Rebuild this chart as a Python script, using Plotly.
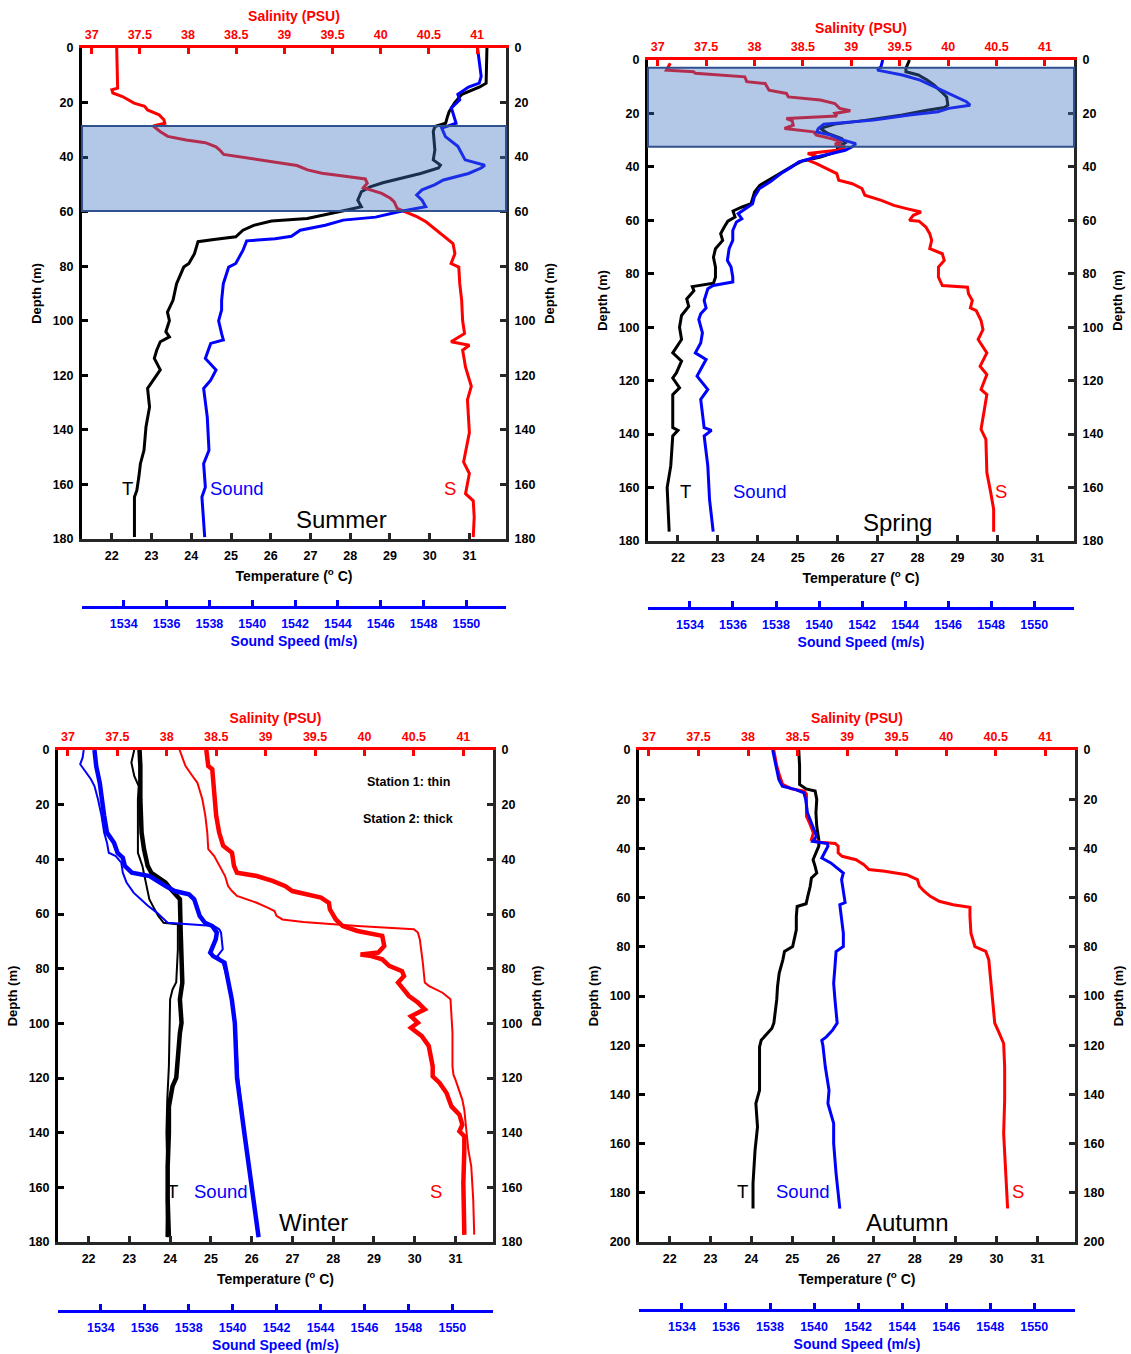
import plotly.graph_objects as go

W, H = 1131, 1354
FONT = "Liberation Sans, Arial, Helvetica, sans-serif"

# ---------------- axis ranges & ticks ----------------
T_RANGE = [21.25, 31.92]
S_RANGE = [36.9, 41.3]
C_RANGE = [1532.05, 1551.85]
T_TICKS = [22, 23, 24, 25, 26, 27, 28, 29, 30, 31]
S_TICKS = [37, 37.5, 38, 38.5, 39, 39.5, 40, 40.5, 41]
S_TICK_TEXT = ["37", "37.5", "38", "38.5", "39", "39.5", "40", "40.5", "41"]
C_TICKS = [1534, 1536, 1538, 1540, 1542, 1544, 1546, 1548, 1550]
DEPTH_TICKS_180 = [0, 20, 40, 60, 80, 100, 120, 140, 160, 180]
DEPTH_TICKS_200 = [0, 20, 40, 60, 80, 100, 120, 140, 160, 180, 200]

# ---------------- SUMMER ----------------
SUMMER_T_DEPTH = [0, 12.9, 14.3, 17.0, 20.0, 23.3, 25.0, 27.6, 28.8, 30.6, 37.4, 41.0, 42.9, 44.0, 46.0, 47.8,
                  49.4, 50.9, 52.7, 55.8, 58.2, 59.4, 60.7, 62.5, 63.4, 65.0, 66.8, 69.2, 70.2, 71.0, 75.4,
                  79.0, 80.3, 86.4, 92.5, 96.8, 100.0, 104.0, 105.9, 107.7, 110.8, 113.8, 118.0, 121.8, 124.8,
                  131.6, 138.9, 147.5, 152.4, 157.3, 162.2, 164.6, 179.3]
SUMMER_T = [31.44, 31.42, 31.26, 30.81, 30.63, 30.49, 30.45, 30.40, 30.13, 30.09, 30.13, 30.09, 30.27, 30.22,
            29.77, 29.27, 28.82, 28.50, 28.28, 28.19, 28.28, 27.92, 27.47, 26.92, 26.02, 25.57, 25.30, 25.12,
            24.57, 24.17, 24.08, 23.94, 23.81, 23.63, 23.54, 23.40, 23.45, 23.36, 23.45, 23.22, 23.13, 23.07,
            23.22, 23.04, 22.90, 22.95, 22.86, 22.81, 22.72, 22.68, 22.63, 22.57, 22.57]
SUMMER_S_DEPTH = [0, 14.7, 15.3, 16.5, 17.8, 20.2, 21.4, 22.7, 24.5, 26.3, 27.6, 28.6, 30.6, 32.4, 33.7, 34.7,
                  36.2, 37.4, 39.0, 40.1, 41.1, 42.3, 43.1, 44.7, 45.9, 46.9, 48.0, 49.6, 51.2, 53.3, 55.1,
                  56.4, 58.8, 60.0, 61.9, 63.7, 66.8, 69.2, 71.7, 75.4, 79.0, 80.3, 86.4, 92.5, 100.0, 104.7,
                  107.7, 109.0, 110.8, 117.0, 124.0, 129.0, 141.0, 151.8, 156.0, 163.4, 166.0, 172.0, 179.3]
SUMMER_S = [37.26, 37.27, 37.21, 37.22, 37.32, 37.44, 37.55, 37.58, 37.70, 37.75, 37.76, 37.64, 37.71, 37.79,
            37.98, 38.18, 38.29, 38.33, 38.37, 38.57, 38.80, 39.02, 39.13, 39.24, 39.39, 39.61, 39.84, 39.86,
            39.82, 40.01, 40.10, 40.14, 40.17, 40.25, 40.38, 40.47, 40.58, 40.66, 40.75, 40.77, 40.73, 40.81,
            40.82, 40.84, 40.85, 40.87, 40.73, 40.92, 40.85, 40.88, 40.94, 40.90, 40.92, 40.86, 40.92, 40.88,
            40.96, 40.97, 40.96]
SUMMER_C_DEPTH = [0, 10.4, 12.9, 14.3, 17.0, 19.0, 22.0, 25.0, 27.6, 29.4, 32.5, 36.0, 41.0, 43.0, 44.0, 46.0,
                  48.4, 50.2, 52.0, 53.9, 55.8, 58.2, 60.0, 62.0, 63.1, 65.0, 66.8, 69.0, 69.9, 70.7, 74.1,
                  79.0, 80.3, 86.4, 92.5, 96.0, 100.0, 104.7, 107.0, 108.3, 113.8, 118.0, 121.8, 124.8, 135.3,
                  147.5, 152.4, 161.0, 164.6, 179.3]
SUMMER_C = [1550.52, 1550.69, 1550.60, 1550.10, 1549.60, 1549.69, 1549.30, 1549.40, 1549.52, 1548.85, 1549.02,
            1549.60, 1549.94, 1550.86, 1550.69, 1550.10, 1548.93, 1548.51, 1547.93, 1547.68, 1547.93, 1548.10,
            1546.84, 1545.76, 1544.25, 1543.41, 1542.24, 1541.83, 1541.07, 1539.74, 1539.57, 1539.23, 1538.90,
            1538.65, 1538.57, 1538.57, 1538.43, 1538.57, 1538.65, 1538.06, 1537.81, 1538.31, 1538.06, 1537.73,
            1537.90, 1537.98, 1537.73, 1537.81, 1537.65, 1537.78]
SUMMER_LAYER = [28.6, 59.8]

# ---------------- SPRING ----------------
SPRING_T_DEPTH = [0, 3.1, 4.4, 5.6, 7.5, 9.4, 11.9, 13.8, 16.9, 17.8, 18.8, 20.6, 22.5, 24.0, 25.6, 27.5, 29.4,
                  31.0, 32.5, 34.4, 36.3, 37.8, 39.4, 41.3, 43.8, 46.9, 49.4, 51.9, 53.8, 55.0, 56.5, 58.8,
                  60.3, 62.5, 65.0, 67.5, 70.6, 73.8, 77.5, 81.3, 83.5, 84.8, 86.3, 89.4, 92.2, 95.6, 100.0,
                  104.6, 109.6, 112.7, 117.1, 119.0, 122.7, 125.2, 137.6, 138.6, 140.7, 151.9, 160.0, 176.5]
SPRING_T = [27.80, 27.71, 27.71, 28.02, 28.24, 28.42, 28.60, 28.73, 28.76, 28.68, 28.24, 27.62, 26.73, 25.93,
            25.57, 25.75, 26.10, 26.19, 26.01, 25.97, 25.57, 25.12, 24.90, 24.68, 24.41, 24.05, 23.92, 23.87,
            23.83, 23.61, 23.38, 23.43, 23.25, 23.16, 23.07, 23.12, 22.94, 22.89, 22.94, 22.94, 22.89, 22.36,
            22.40, 22.22, 22.27, 22.09, 22.04, 22.09, 21.87, 22.09, 21.96, 21.87, 22.04, 21.87, 21.87, 22.00,
            21.87, 21.82, 21.73, 21.78]
SPRING_S_DEPTH = [1.2, 3.8, 4.4, 5.0, 6.3, 8.1, 8.8, 11.3, 12.5, 13.8, 15.0, 16.3, 18.1, 19.0, 20.0, 21.0,
                  21.9, 22.8, 24.4, 25.6, 26.9, 28.1, 29.4, 30.6, 31.5, 32.5, 33.8, 35.0, 36.0, 37.5, 38.8,
                  40.6, 42.5, 45.0, 46.3, 48.1, 50.6, 52.5, 54.4, 55.6, 56.9, 58.1, 60.0, 60.3, 62.5, 65.0,
                  67.5, 70.6, 72.5, 75.0, 77.5, 81.3, 84.4, 85.0, 87.5, 90.0, 92.8, 93.8, 97.5, 100.9, 104.6,
                  109.6, 114.6, 117.7, 123.3, 125.2, 138.2, 142.0, 154.4, 161.9, 168.1, 176.5]
SPRING_S = [37.13, 37.09, 37.37, 37.39, 37.90, 37.92, 38.11, 38.15, 38.33, 38.35, 38.68, 38.83, 38.88, 38.99,
            38.83, 38.85, 38.33, 38.39, 38.40, 38.31, 38.61, 38.64, 38.79, 38.90, 38.83, 38.94, 38.85, 38.55,
            38.64, 38.55, 38.64, 38.75, 38.85, 38.87, 39.01, 39.11, 39.14, 39.31, 39.44, 39.57, 39.72, 39.64,
            39.60, 39.70, 39.77, 39.81, 39.83, 39.81, 39.94, 39.96, 39.90, 39.90, 39.94, 40.20, 40.21, 40.25,
            40.23, 40.29, 40.34, 40.36, 40.31, 40.40, 40.33, 40.40, 40.34, 40.40, 40.34, 40.39, 40.40, 40.44,
            40.47, 40.47]
SPRING_C_DEPTH = [0, 2.5, 3.8, 5.6, 7.5, 10.0, 11.9, 13.8, 15.6, 16.9, 18.1, 19.4, 20.6, 22.5, 24.0, 25.6,
                  26.9, 28.1, 29.8, 31.3, 32.5, 33.8, 35.0, 36.3, 38.1, 40.0, 42.5, 45.6, 48.1, 51.3, 53.8,
                  55.6, 57.5, 59.4, 60.6, 63.8, 67.5, 70.6, 75.0, 77.5, 81.3, 83.1, 84.4, 85.6, 90.0, 92.8,
                  95.0, 97.1, 102.1, 105.9, 109.6, 112.1, 118.3, 123.3, 127.0, 137.6, 138.6, 140.7, 151.9,
                  164.4, 176.5]
SPRING_C = [1542.96, 1542.88, 1542.71, 1543.87, 1544.70, 1545.36, 1545.86, 1546.35, 1546.85, 1547.02, 1546.02,
            1545.53, 1544.20, 1542.54, 1540.22, 1539.97, 1539.89, 1540.55, 1541.05, 1541.71, 1541.54, 1541.21,
            1540.55, 1539.89, 1539.06, 1538.73, 1538.23, 1537.73, 1537.23, 1536.99, 1536.91, 1536.57, 1536.24,
            1536.41, 1536.16, 1535.99, 1535.99, 1535.82, 1535.74, 1535.91, 1535.99, 1535.99, 1535.08, 1534.83,
            1534.66, 1534.75, 1534.50, 1534.41, 1534.58, 1534.50, 1534.25, 1534.75, 1534.33, 1534.83, 1534.50,
            1534.66, 1535.00, 1534.66, 1534.83, 1534.91, 1535.08]
SPRING_LAYER = [2.9, 32.5]

# ---------------- WINTER (station 1 thin, station 2 thick) ----------------
WINTER_T1_DEPTH = [0, 4.6, 9.5, 13.2, 18.0, 30.2, 37.6, 42.4, 48.5, 54.6, 58.3, 60.7, 63.2, 63.8, 64.4, 73.0,
                   85.0, 87.6, 91.2, 103.4, 115.7, 128.0, 140.0, 152.4, 178.2]
WINTER_T1 = [23.12, 23.05, 23.12, 23.23, 23.21, 23.21, 23.21, 23.32, 23.40, 23.49, 23.62, 23.71, 23.84, 24.24,
             24.19, 24.19, 24.15, 24.06, 24.00, 23.99, 23.97, 23.93, 23.91, 23.93, 23.91]
WINTER_T2_DEPTH = [0, 5.9, 18.0, 30.2, 36.3, 38.8, 42.4, 44.9, 46.7, 48.5, 51.0, 52.8, 54.6, 66.8, 79.0, 85.1,
                   91.2, 99.8, 103.5, 120.0, 123.0, 130.5, 140.0, 152.4, 164.5, 178.2]
WINTER_T2 = [23.25, 23.27, 23.27, 23.30, 23.36, 23.40, 23.45, 23.54, 23.71, 23.89, 24.02, 24.15, 24.24, 24.26,
             24.28, 24.30, 24.24, 24.28, 24.24, 24.15, 24.06, 23.97, 23.97, 23.94, 23.94, 23.97]
WINTER_C1_DEPTH = [0, 2.8, 5.2, 7.7, 10.7, 13.2, 18.0, 24.0, 30.2, 33.9, 37.6, 38.8, 41.2, 44.9, 48.5, 52.2,
                   54.6, 57.0, 59.5, 61.3, 63.2, 64.4, 65.6, 66.8, 72.9, 75.4, 77.8, 85.0, 91.2, 99.8, 120.0,
                   140.0, 160.0, 178.2]
WINTER_C1 = [1533.22, 1533.17, 1533.06, 1533.30, 1533.55, 1533.71, 1533.87, 1534.03, 1534.15, 1534.28, 1534.36,
             1534.68, 1534.93, 1535.00, 1535.17, 1535.49, 1535.82, 1536.14, 1536.55, 1536.79, 1537.04, 1539.15,
             1539.39, 1539.47, 1539.55, 1539.31, 1539.55, 1539.80, 1539.96, 1540.12, 1540.25, 1540.55, 1540.87,
             1541.20]
WINTER_C2_DEPTH = [0, 5.9, 12.0, 18.0, 24.0, 30.2, 33.9, 37.6, 39.4, 42.4, 44.9, 46.1, 47.9, 49.8, 51.6, 52.8,
                   54.6, 57.0, 60.7, 63.2, 64.4, 66.8, 69.3, 74.1, 75.4, 77.8, 85.0, 91.2, 100.0, 120.0, 140.0,
                   160.0, 178.2]
WINTER_C2 = [1533.71, 1533.79, 1533.95, 1534.03, 1534.15, 1534.28, 1534.60, 1534.76, 1535.00, 1535.09, 1535.41,
             1536.22, 1536.55, 1536.95, 1537.36, 1538.01, 1538.25, 1538.33, 1538.50, 1538.74, 1539.07, 1539.28,
             1539.23, 1538.98, 1539.11, 1539.63, 1539.80, 1539.96, 1540.10, 1540.20, 1540.53, 1540.85, 1541.18]
WINTER_S1_DEPTH = [0, 2.2, 5.9, 9.5, 12.0, 18.0, 24.0, 30.2, 36.3, 38.8, 42.4, 46.1, 49.8, 51.6, 53.4, 54.6,
                   55.9, 57.7, 58.9, 60.7, 62.0, 62.9, 63.8, 64.4, 65.6, 66.8, 69.3, 74.1, 77.8, 85.1, 86.3,
                   88.8, 91.2, 97.3, 103.4, 115.7, 118.8, 120.6, 124.4, 128.0, 131.7, 140.1, 146.2, 152.3, 164.5,
                   177.3]
WINTER_S1 = [38.13, 38.15, 38.19, 38.26, 38.31, 38.36, 38.39, 38.41, 38.42, 38.48, 38.53, 38.59, 38.62, 38.66,
             38.71, 38.80, 38.91, 39.02, 39.09, 39.11, 39.17, 39.38, 39.71, 39.93, 40.50, 40.54, 40.56, 40.58,
             40.59, 40.61, 40.65, 40.79, 40.87, 40.88, 40.89, 40.89, 40.90, 40.92, 40.96, 40.99, 41.01, 41.03,
             41.05, 41.08, 41.10, 41.11]
WINTER_S2_DEPTH = [0, 5.9, 7.0, 18.0, 24.0, 30.2, 35.0, 37.6, 42.4, 44.9, 46.1, 47.9, 49.8, 51.6, 52.8, 54.0,
                   55.9, 58.3, 62.0, 64.4, 66.2, 68.0, 71.7, 74.1, 74.8, 75.4, 76.6, 79.0, 80.9, 82.7, 85.1,
                   87.6, 90.0, 92.4, 94.9, 97.4, 99.8, 101.6, 104.7, 108.3, 115.7, 119.4, 121.8, 125.5, 130.4,
                   133.4, 137.1, 139.5, 141.3, 146.2, 158.5, 177.4]
WINTER_S2 = [38.40, 38.42, 38.46, 38.48, 38.50, 38.53, 38.57, 38.66, 38.68, 38.71, 38.91, 39.07, 39.20, 39.27,
             39.42, 39.56, 39.64, 39.65, 39.71, 39.78, 39.93, 40.18, 40.20, 40.14, 39.96, 40.07, 40.18, 40.25,
             40.38, 40.40, 40.34, 40.40, 40.45, 40.54, 40.61, 40.47, 40.54, 40.47, 40.58, 40.65, 40.69, 40.69,
             40.76, 40.83, 40.88, 40.96, 40.99, 40.96, 41.01, 41.01, 41.00, 41.01]

# ---------------- AUTUMN ----------------
AUTUMN_T_DEPTH = [0, 6.5, 14.0, 15.8, 16.7, 20.1, 25.5, 31.0, 36.4, 39.1, 41.8, 44.6, 47.3, 50.0, 52.0, 55.4,
                  59.5, 62.5, 63.6, 67.7, 73.1, 76.5, 79.9, 81.9, 85.3, 90.8, 96.2, 101.6, 111.0, 113.2, 116.6,
                  118.0, 120.7, 138.3, 143.7, 153.2, 162.7, 176.2, 186.4]
AUTUMN_T = [25.16, 25.18, 25.18, 25.34, 25.56, 25.60, 25.58, 25.60, 25.65, 25.65, 25.58, 25.51, 25.56, 25.60,
            25.47, 25.44, 25.38, 25.34, 25.12, 25.10, 25.10, 25.06, 25.01, 24.81, 24.77, 24.68, 24.64, 24.62,
            24.55, 24.50, 24.33, 24.24, 24.20, 24.20, 24.11, 24.15, 24.09, 24.04, 24.04]
AUTUMN_S_DEPTH = [0, 6.5, 10.6, 14.0, 15.8, 16.7, 18.0, 22.8, 26.9, 29.6, 33.7, 36.4, 37.5, 38.0, 39.1, 41.8,
                  43.2, 44.6, 46.6, 48.6, 49.3, 50.7, 52.7, 55.4, 57.5, 59.5, 61.5, 62.9, 63.9, 67.7, 74.5,
                  79.9, 81.9, 85.3, 94.8, 101.6, 111.0, 114.6, 119.3, 128.8, 142.4, 155.9, 169.5, 186.4]
AUTUMN_S = [38.26, 38.29, 38.32, 38.35, 38.44, 38.57, 38.59, 38.59, 38.59, 38.62, 38.66, 38.64, 38.73, 38.88,
            38.91, 38.91, 38.95, 39.09, 39.17, 39.22, 39.38, 39.60, 39.71, 39.73, 39.78, 39.84, 39.93, 40.07,
            40.24, 40.24, 40.25, 40.29, 40.40, 40.43, 40.45, 40.47, 40.49, 40.53, 40.58, 40.59, 40.59, 40.58,
            40.60, 40.62]
AUTUMN_C_DEPTH = [0, 6.5, 12.0, 14.7, 16.0, 17.4, 20.1, 25.5, 31.0, 35.0, 37.1, 38.0, 39.1, 41.8, 43.9, 45.9,
                  48.6, 50.0, 52.7, 58.2, 62.0, 62.9, 67.7, 74.5, 79.9, 81.9, 88.0, 94.8, 101.6, 111.0, 113.9,
                  116.6, 118.0, 120.0, 128.8, 138.3, 143.7, 151.8, 159.9, 172.2, 186.4]
AUTUMN_C = [1538.12, 1538.28, 1538.40, 1538.56, 1539.13, 1539.54, 1539.62, 1539.70, 1539.94, 1540.11, 1539.94,
            1540.60, 1540.63, 1540.47, 1540.35, 1540.76, 1541.17, 1541.33, 1541.25, 1541.33, 1541.41, 1541.17,
            1541.25, 1541.33, 1541.33, 1541.00, 1540.95, 1540.89, 1540.95, 1541.05, 1540.84, 1540.56, 1540.35,
            1540.40, 1540.51, 1540.68, 1540.63, 1540.89, 1540.89, 1541.00, 1541.17]

RED, BLUE, BLACK = "#ff0000", "#0000ff", "#000000"

# ---------------- panel geometry (pixels) ----------------
PANELS = [
    dict(name="Summer", box=(82, 48, 506, 539), snd_y=607, dmax=180, dticks=DEPTH_TICKS_180,
         traces=[(SUMMER_T, SUMMER_T_DEPTH, "T", BLACK, 3), (SUMMER_C, SUMMER_C_DEPTH, "C", BLUE, 3),
                 (SUMMER_S, SUMMER_S_DEPTH, "S", RED, 3)],
         layer=SUMMER_LAYER,
         labels=[("T", 22.4, 161.5, BLACK), ("Sound", 25.15, 161.5, BLUE), ("S", 30.5, 161.5, RED)],
         season=(27.77, 172.7)),
    dict(name="Spring", box=(648, 60, 1074, 541), snd_y=608, dmax=180, dticks=DEPTH_TICKS_180,
         traces=[(SPRING_T, SPRING_T_DEPTH, "T", BLACK, 3), (SPRING_C, SPRING_C_DEPTH, "C", BLUE, 3),
                 (SPRING_S, SPRING_S_DEPTH, "S", RED, 3)],
         layer=SPRING_LAYER,
         labels=[("T", 22.18, 161.3, BLACK), ("Sound", 24.05, 161.3, BLUE), ("S", 30.1, 161.3, RED)],
         season=(27.5, 172.9)),
    dict(name="Winter", box=(58, 750, 493, 1242), snd_y=1311, dmax=180, dticks=DEPTH_TICKS_180,
         traces=[(WINTER_T1, WINTER_T1_DEPTH, "T", BLACK, 2), (WINTER_T2, WINTER_T2_DEPTH, "T", BLACK, 4.5),
                 (WINTER_C1, WINTER_C1_DEPTH, "C", BLUE, 2), (WINTER_C2, WINTER_C2_DEPTH, "C", BLUE, 4.5),
                 (WINTER_S1, WINTER_S1_DEPTH, "S", RED, 2), (WINTER_S2, WINTER_S2_DEPTH, "S", RED, 4.5)],
         layer=None,
         labels=[("T", 24.06, 161.7, BLACK), ("Sound", 25.24, 161.7, BLUE), ("S", 30.53, 161.7, RED)],
         season=(27.51, 173.0)),
    dict(name="Autumn", box=(639, 750, 1075, 1242), snd_y=1310, dmax=200, dticks=DEPTH_TICKS_200,
         traces=[(AUTUMN_T, AUTUMN_T_DEPTH, "T", BLACK, 3), (AUTUMN_C, AUTUMN_C_DEPTH, "C", BLUE, 3),
                 (AUTUMN_S, AUTUMN_S_DEPTH, "S", RED, 3)],
         layer=None,
         labels=[("T", 23.79, 179.3, BLACK), ("Sound", 25.26, 179.3, BLUE), ("S", 30.53, 179.3, RED)],
         season=(27.81, 191.9)),
]


def names(prefix, n):
    return (prefix if n == 1 else f"{prefix}{n}"), (f"{prefix}axis" if n == 1 else f"{prefix}axis{n}")


def tfont(color, size=12.5):
    return dict(family=FONT, size=size, color=color, weight="bold")


fig = go.Figure()
layout = dict(width=W, height=H, margin=dict(l=0, r=0, t=0, b=0, autoexpand=False), autosize=False,
              paper_bgcolor="white", plot_bgcolor="white", showlegend=False,
              shapes=[], annotations=[])

for i, p in enumerate(PANELS):
    x0, y0, x1, y1 = p["box"]
    xd = [x0 / W, x1 / W]
    yd = [1 - y1 / H, 1 - y0 / H]
    xT, kT = names("x", 3 * i + 1)
    xS, kS = names("x", 3 * i + 2)
    xC, kC = names("x", 3 * i + 3)
    yL, kL = names("y", 2 * i + 1)
    yR, kR = names("y", 2 * i + 2)

    common_x = dict(showgrid=False, zeroline=False, showline=True, linewidth=3, ticks="inside",
                    ticklen=6, tickwidth=2.5, fixedrange=True, automargin=False)
    layout[kT] = dict(common_x, domain=xd, anchor=yL, side="bottom", range=T_RANGE, tickvals=T_TICKS,
                      linecolor="#262626", tickcolor="#262626", tickfont=tfont(BLACK),
                      ticklabelstandoff=3,
                      title=dict(text="Temperature (<sup>o</sup> C)", font=tfont(BLACK, 14), standoff=10))
    layout[kS] = dict(common_x, overlaying=xT, anchor=yL, side="top", range=S_RANGE, tickvals=S_TICKS,
                      ticktext=S_TICK_TEXT, linecolor=RED, tickcolor=RED, tickfont=tfont(RED),
                      ticklabelstandoff=1,
                      title=dict(text="Salinity (PSU)", font=tfont(RED, 14), standoff=4))
    layout[kC] = dict(common_x, overlaying=xT, anchor="free", position=1 - p["snd_y"] / H, side="bottom",
                      range=C_RANGE, tickvals=C_TICKS, linecolor=BLUE, tickcolor=BLUE, tickfont=tfont(BLUE),
                      ticklabelstandoff=4,
                      title=dict(text="Sound Speed (m/s)", font=tfont(BLUE, 14), standoff=6))
    common_y = dict(showgrid=False, zeroline=False, showline=True, linewidth=3, ticks="inside",
                    ticklen=6, tickwidth=2.5, range=[p["dmax"], 0], tickvals=p["dticks"], fixedrange=True,
                    automargin=False, tickfont=tfont(BLACK), ticklabelstandoff=3)
    layout[kL] = dict(common_y, domain=yd, anchor=xT, side="left", linecolor=BLACK, tickcolor=BLACK,
                      title=dict(text="Depth (m)", font=tfont(BLACK, 13), standoff=9))
    layout[kR] = dict(common_y, overlaying=yL, anchor=xT, side="right", linecolor="#262626",
                      tickcolor="#262626", title=dict(text="Depth (m)", font=tfont(BLACK, 13), standoff=11))

    axis_for = {"T": xT, "S": xS, "C": xC}
    for vals, depth, kind, color, width in p["traces"]:
        fig.add_trace(go.Scatter(x=vals, y=depth, xaxis=axis_for[kind], yaxis=yL, mode="lines",
                                 line=dict(color=color, width=width), hoverinfo="skip"))
    # invisible trace so the right-hand depth axis is drawn
    first = p["traces"][0]
    fig.add_trace(go.Scatter(x=[first[0][0]], y=[first[1][0]], xaxis=xT, yaxis=yR, mode="markers",
                             marker=dict(opacity=0), hoverinfo="skip"))

    if p["layer"] is not None:
        layout["shapes"].append(dict(type="rect", xref=f"{xT} domain", yref=yL, x0=0, x1=1,
                                     y0=p["layer"][0], y1=p["layer"][1], layer="above",
                                     fillcolor="rgba(66,114,196,0.4)",
                                     line=dict(color="rgb(47,82,143)", width=2)))
    for txt, tx, ty, color in p["labels"]:
        layout["annotations"].append(dict(text=txt, x=tx, y=ty, xref=xT, yref=yL, showarrow=False,
                                          font=dict(family=FONT, size=18.5, color=color)))
    layout["annotations"].append(dict(text=p["name"], x=p["season"][0], y=p["season"][1], xref=xT, yref=yL,
                                      showarrow=False, font=dict(family=FONT, size=24, color=BLACK)))
    if p["name"] == "Winter":
        for txt, ty in (("Station 1: thin", 11.7), ("Station 2: thick", 25.3)):
            layout["annotations"].append(dict(text=txt, x=29.84, y=ty, xref=xT, yref=yL, showarrow=False,
                                              font=tfont(BLACK, 12.5)))

fig.update_layout(**layout)
fig.write_html("out.html", config={"displayModeBar": False},
               post_script="document.body.style.margin='0';document.body.style.padding='0';")
